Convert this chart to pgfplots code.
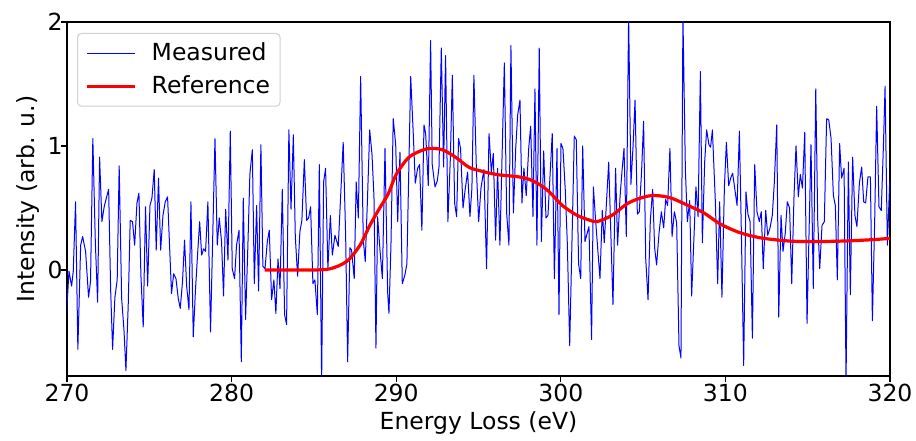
\documentclass[border=0pt]{standalone}
\usepackage{pgfplots}
\pgfplotsset{compat=1.18}
\usepackage{fontspec}
\setmainfont{DejaVu Sans}

\pgfplotstableread{
x y
269.98 -0.34
270.12 -0.01
270.28 -0.13
270.38 -0.01
270.52 0.55
270.66 -0.64
270.83 0.20
270.95 0.27
271.13 0.15
271.31 -0.22
271.43 -0.09
271.57 1.06
271.72 0.23
271.86 -0.26
271.98 0.91
272.12 0.39
272.26 0.51
272.41 0.59
272.53 0.65
272.65 -0.15
272.77 -0.64
272.91 -0.22
273.05 -0.08
273.17 0.84
273.32 -0.23
273.46 -0.48
273.58 -0.81
273.72 -0.28
273.84 0.40
273.98 0.39
274.11 0.20
274.25 0.54
274.37 0.62
274.49 -0.04
274.63 -0.46
274.77 0.51
274.90 -0.13
275.04 0.52
275.16 0.58
275.30 0.81
275.42 0.16
275.56 0.74
275.69 0.16
275.83 0.44
275.97 0.55
276.11 0.59
276.35 -0.19
276.48 -0.03
276.62 -0.07
276.76 -0.23
276.88 -0.31
277.02 -0.09
277.14 0.24
277.27 -0.13
277.41 -0.32
277.53 0.55
277.67 -0.54
277.81 -0.15
277.93 0.12
278.06 0.39
278.18 0.12
278.30 0.17
278.42 0.15
278.56 0.55
278.72 -0.50
278.99 1.06
279.13 0.20
279.25 0.42
279.39 0.23
279.51 -0.21
279.64 0.49
279.78 0.08
279.92 1.12
280.04 0.01
280.18 -0.07
280.30 0.20
280.45 0.32
280.59 -0.74
280.71 0.58
280.85 -0.40
280.99 0.20
281.11 0.77
281.26 0.97
281.38 -0.11
281.52 0.52
281.64 -0.17
281.78 1.01
281.90 0.03
282.03 0.01
282.17 0.23
282.29 0.32
282.43 -0.24
282.57 -0.08
282.69 -0.35
282.82 0.09
282.94 -0.15
283.08 0.65
283.22 -0.36
283.34 -0.44
283.48 1.13
283.61 0.49
283.75 1.09
283.87 0.27
284.01 -0.05
284.15 0.31
284.27 0.40
284.42 0.89
284.56 0.40
284.68 0.42
284.80 0.51
284.94 -0.11
285.06 -0.08
285.21 -0.36
285.33 0.85
285.47 -0.90
285.59 0.71
285.71 0.82
285.85 0.01
286.00 0.44
286.12 0.12
286.28 0.28
286.48 0.19
286.78 1.03
286.93 0.27
287.05 -0.74
287.19 0.18
287.29 0.16
287.45 -0.07
287.57 0.71
287.70 0.42
287.84 1.56
288.00 0.24
288.12 0.07
288.26 0.59
288.39 1.13
288.53 0.93
288.65 0.59
288.77 -0.63
288.87 0.43
289.01 0.17
289.16 -0.07
289.32 0.98
289.48 -0.18
289.56 -0.35
289.68 0.19
289.82 1.22
289.97 1.01
290.09 0.39
290.23 0.95
290.37 -0.11
290.53 -0.04
290.65 0.05
290.88 1.56
291.04 1.09
291.16 0.70
291.30 0.82
291.42 0.85
291.56 0.32
291.69 1.17
291.79 1.10
291.95 0.68
292.09 1.85
292.19 0.85
292.36 0.67
292.50 0.72
292.60 0.83
292.74 1.79
292.88 0.83
293.00 1.73
293.14 0.39
293.29 0.90
293.41 1.57
293.55 0.54
293.67 0.43
293.79 1.06
293.91 0.98
294.06 0.50
294.20 0.66
294.34 0.79
294.48 0.43
294.60 0.66
294.72 1.57
294.87 0.82
295.01 0.39
295.15 0.66
295.33 0.81
295.49 0.01
295.64 1.10
295.78 0.79
295.90 0.94
296.04 0.24
296.16 0.82
296.30 0.20
296.57 1.67
296.71 0.46
296.85 0.20
296.97 1.81
297.12 0.46
297.26 0.98
297.38 1.25
297.52 1.37
297.64 0.54
297.76 0.82
297.90 0.60
298.05 0.98
298.17 1.16
298.31 0.43
298.43 1.46
298.55 0.20
298.69 1.79
298.82 0.23
298.96 0.96
299.10 0.42
299.22 0.44
299.48 1.10
299.61 -0.07
299.77 0.98
299.89 -0.36
300.01 1.02
300.13 0.98
300.27 0.65
300.40 0.20
300.54 -0.61
300.82 1.08
300.94 1.05
301.08 0.05
301.21 -0.07
301.33 1.00
301.47 0.23
301.71 0.35
301.87 -0.56
301.98 0.67
302.12 0.39
302.38 -0.07
302.52 0.48
302.64 0.22
302.91 0.87
303.17 -0.28
303.33 0.82
303.45 0.20
303.60 0.59
303.72 0.80
303.84 0.98
303.98 0.27
304.12 2.05
304.26 0.69
304.39 1.00
304.51 1.37
304.65 0.45
304.77 0.47
304.91 0.80
305.03 1.20
305.16 0.09
305.30 -0.24
305.44 0.40
305.58 0.65
305.70 0.18
305.82 0.04
305.97 0.30
306.11 0.47
306.25 0.34
306.37 0.57
306.49 0.52
306.63 0.98
306.76 0.27
306.90 0.47
307.04 0.38
307.18 -0.61
307.30 -0.71
307.42 2.05
307.57 0.80
307.69 0.39
307.83 0.56
307.95 -0.21
308.21 0.67
308.34 0.43
308.48 1.60
308.60 0.22
308.74 0.87
308.86 1.13
309.00 1.01
309.10 0.99
309.21 1.13
309.39 0.55
309.53 -0.11
309.65 0.55
309.79 -0.22
309.94 0.67
310.06 1.03
310.20 0.68
310.32 0.74
310.44 0.78
310.71 0.52
310.85 1.12
310.97 0.30
311.11 -0.77
311.25 0.63
311.37 0.45
311.50 0.39
311.64 -0.55
311.78 0.85
311.92 0.47
312.06 0.39
312.18 0.47
312.30 0.01
312.45 0.48
312.57 0.28
312.71 0.34
312.85 0.44
312.97 0.70
313.12 1.17
313.24 -0.38
313.38 0.44
313.50 0.15
313.64 0.30
313.76 0.55
313.90 0.50
314.03 -0.11
314.17 0.60
314.29 1.00
314.43 0.59
314.55 0.77
314.68 0.66
314.82 1.11
314.96 -0.43
315.20 1.01
315.34 -0.15
315.49 1.46
315.61 0.40
315.73 0.01
315.87 0.36
316.01 0.39
316.15 1.22
316.28 1.21
316.42 1.06
316.56 0.60
316.68 0.52
316.80 -0.08
316.94 1.02
317.06 0.74
317.21 0.82
317.33 -0.90
317.47 0.87
317.59 -0.20
317.73 0.91
317.87 0.44
317.99 0.35
318.14 0.70
318.28 0.83
318.40 0.55
318.52 0.54
318.66 0.75
318.81 0.75
318.93 -0.41
319.07 0.40
319.19 1.32
319.33 0.51
319.47 0.48
319.60 1.00
319.70 1.48
319.84 0.20
319.98 0.71
320.10 0.71
}\measured

\pgfplotstableread{
x y
282.0 0.00
283.0 0.00
284.0 0.00
285.0 0.00
286.0 0.01
287.0 0.07
287.8 0.20
288.4 0.36
289.0 0.50
289.5 0.61
290.0 0.77
290.7 0.90
291.3 0.95
292.0 0.98
292.8 0.97
293.6 0.91
294.4 0.83
295.1 0.80
296.1 0.77
297.5 0.75
298.1 0.73
298.7 0.69
299.3 0.63
300.1 0.52
301.0 0.44
301.8 0.40
302.2 0.39
303.1 0.44
304.1 0.54
305.1 0.59
305.8 0.60
306.7 0.58
307.9 0.51
308.7 0.46
309.7 0.37
310.9 0.30
312.1 0.26
313.3 0.24
314.4 0.23
316.0 0.23
317.5 0.235
319.0 0.245
320.0 0.255
}\reference

\begin{document}
\fontsize{23.5bp}{28bp}\selectfont
\begin{tikzpicture}
\useasboundingbox (-67bp,-65bp) rectangle (849bp,376bp);
\begin{axis}[
  at={(0,0)}, anchor=south west,
  width=823bp, height=354bp, scale only axis,
  xmin=270, xmax=320, ymin=-0.855, ymax=2,
  xtick={270,280,...,320}, ytick={0,1,2},
  xtick pos=left, ytick pos=left,
  tick align=outside, major tick length=5.5bp,
  axis line style={line width=1.1bp},
  tick style={line width=1.1bp, black},
  xlabel={Energy Loss (eV)}, ylabel={Intensity (arb. u.)},
  xlabel style={yshift=7bp},
  ylabel style={yshift=-8bp},
  xticklabel style={yshift=5bp},
  yticklabel style={xshift=9bp},
  /pgf/number format/assume math mode=true,
  tick label style={font=\fontsize{23.5bp}{28bp}\selectfont},
  label style={font=\fontsize{23.5bp}{28bp}\selectfont},
  legend style={at={(0.0122,0.969)}, anchor=north west,
    draw=black!18, rounded corners=4bp, line width=1bp,
    font=\fontsize{23.5bp}{28bp}\selectfont,
    inner xsep=8bp, inner ysep=7bp, row sep=8bp, column sep=13bp},
  legend cell align=left,
  legend image code/.code={\draw[#1] (0bp,0bp) -- (48bp,0bp);},
]
\addplot[blue, line width=1bp, line join=round] table[x=x,y=y] {\measured};
\addlegendentry{Measured}
\addplot[red, line width=3.2bp, line join=round, smooth] table[x=x,y=y] {\reference};
\addlegendentry{Reference}
\end{axis}
\end{tikzpicture}
\end{document}
